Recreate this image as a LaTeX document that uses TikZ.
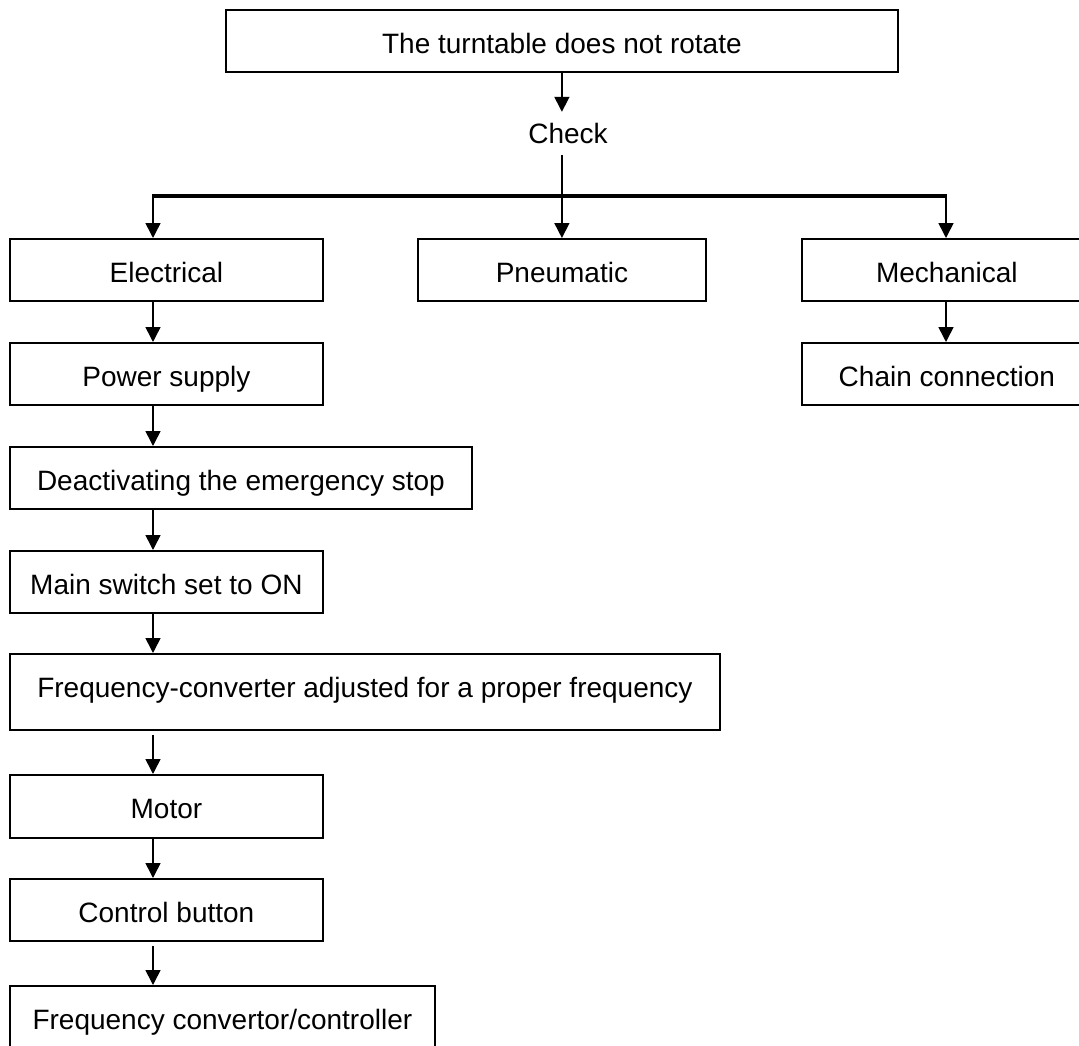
\documentclass[tikz,border=0pt]{standalone}
\usepackage{fontspec}
\setmainfont{Liberation Sans}
\usetikzlibrary{positioning}
\usetikzlibrary{arrows.meta}

\begin{document}
\begin{tikzpicture}[x=1pt, y=-1pt,
        chkbox/.style={draw, line width=1.8pt, anchor=north west, inner sep=0pt,
            minimum height=62pt, text height=28pt, text depth=3pt,
            font=\fontsize{28}{34}\selectfont},
        flow/.style={line width=1.6pt, -{Triangle[length=15pt, width=15pt]}}]
    \useasboundingbox (0,0) rectangle (1079,1046);

    % Fault
    \node[chkbox, minimum width=672pt] (fault) at (225,9) {The turntable does not rotate};
    \node[font=\fontsize{28}{34}\selectfont, inner sep=0pt, anchor=base,
        text height=32pt, text depth=11pt] (check) at (568,144) {Check};

    % Branches
    \node[chkbox, minimum width=313pt] (elec) at (9,238) {Electrical};
    \node[chkbox, minimum width=288pt] (pneu) at (417,238) {Pneumatic};
    \node[chkbox, minimum width=290pt] (mech) at (801,238) {Mechanical};
    \node[chkbox, minimum width=290pt] (chain) at (801,342) {Chain connection};

    % Electrical chain
    \node[chkbox, minimum width=313pt] (power) at (9,342) {Power supply};
    \node[chkbox, minimum width=462pt] (estop) at (9,446) {Deactivating the emergency stop};
    \node[chkbox, minimum width=313pt] (mainsw) at (9,550) {Main switch set to ON};
    \node[chkbox, minimum width=710pt, minimum height=76pt,
        text height=17pt, text depth=6pt] (freq) at (9,653) {Frequency-converter adjusted for a proper frequency};
    \node[chkbox, minimum width=313pt, minimum height=63pt] (motor) at (9,774) {Motor};
    \node[chkbox, minimum width=313pt] (button) at (9,878) {Control button};
    \node[chkbox, minimum width=425pt, minimum height=63pt] (conv) at (9,985) {Frequency convertor/controller};

    % Bus
    \coordinate (spine) at (153,196);
    \coordinate (busR) at (946,196);
    \draw[line width=4pt] ([xshift=-0.8pt]spine) -- ([xshift=0.8pt]busR);

    % Connectors
    \draw[flow] (fault.south) -- (check.north -| fault.south);
    \draw[flow] (check.south -| fault.south) -- (fault.south |- pneu.north);
    \draw[flow] (spine) -- (elec.north -| spine);
    \draw[flow] (busR) -- (busR |- mech.north);
    \draw[flow] (busR |- mech.south) -- (busR |- chain.north);
    \foreach \a/\b/\gap in {elec/power/0, power/estop/0, estop/mainsw/0, mainsw/freq/0,
        freq/motor/4, motor/button/0, button/conv/4}
        \draw[flow, shorten <=\gap pt] (\a.south -| spine) -- (\b.north -| spine);

\end{tikzpicture}
\end{document}
